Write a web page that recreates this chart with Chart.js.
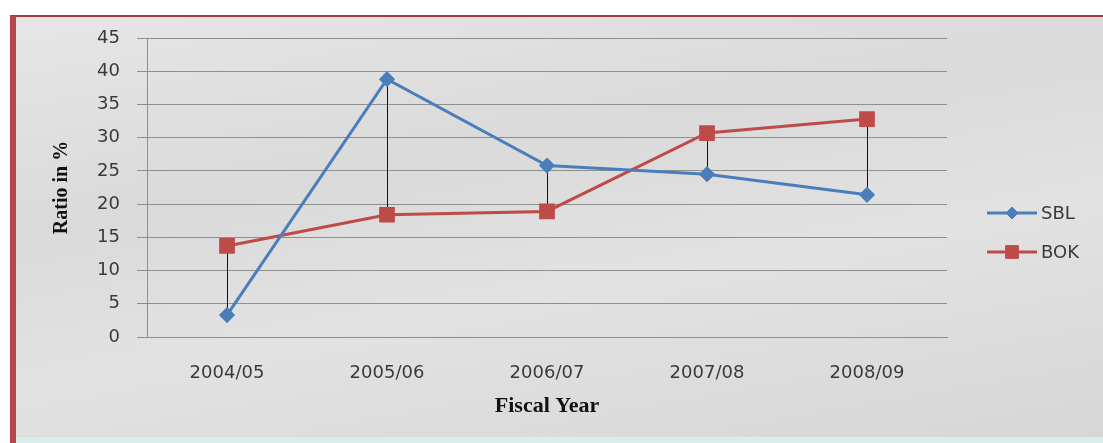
<!DOCTYPE html>
<html>
<head>
<meta charset="utf-8">
<script src="https://cdn.jsdelivr.net/npm/chart.js@4.4.1/dist/chart.umd.min.js"></script>
<style>
  html, body { margin: 0; padding: 0; background: #fff; }
  #wrap { position: relative; width: 1103px; height: 443px; overflow: hidden; }
  #panel {
    position: absolute; left: 10px; top: 15px; right: 0; bottom: 0;
    border-left: 6px solid #b5484a; border-top: 2px solid #a53b3d;
    background: linear-gradient(170deg, #e6e6e6 0%, #dadada 35%, #e2e2e2 60%, #d6d6d6 100%);
  }
  #panel::after {
    content: ''; position: absolute; left: 0; right: 0; bottom: 0; height: 6px; background: #dcecec;
  }
  canvas { position: absolute; left: 0; top: 0; }
</style>
</head>
<body>
<div id="wrap">
  <div id="panel"></div>
  <canvas id="chart" width="1103" height="443"></canvas>
</div>
<script>
const years = ['2004/05', '2005/06', '2006/07', '2007/08', '2008/09'];
const sbl = [3.3, 38.8, 25.8, 24.5, 21.4];
const bok = [13.7, 18.4, 18.9, 30.7, 32.8];
const yTicks = [0, 5, 10, 15, 20, 25, 30, 35, 40, 45];

const BLUE = '#4a7ebb';
const RED = '#be4b48';
const TEXT = '#3a3a3a';
const GRID = '#8f8f8f';

// black high-low lines between the two series at each year
const hiLoLines = {
  id: 'hiLoLines',
  beforeDatasetsDraw(chart) {
    const { ctx, scales: { x, y } } = chart;
    ctx.save();
    ctx.strokeStyle = '#111';
    ctx.lineWidth = 1;
    years.forEach((yr, i) => {
      const px = Math.round(x.getPixelForValue(i)) + 0.5;
      ctx.beginPath();
      ctx.moveTo(px, y.getPixelForValue(sbl[i]));
      ctx.lineTo(px, y.getPixelForValue(bok[i]));
      ctx.stroke();
    });
    ctx.restore();
  }
};

// Excel-style legend: line with marker in the middle
const sideLegend = {
  id: 'sideLegend',
  afterDraw(chart) {
    const { ctx } = chart;
    const items = chart.data.datasets.map((ds, i) => ({ ds, y: 213 + i * 39 }));
    ctx.save();
    items.forEach(({ ds, y }) => {
      ctx.strokeStyle = ds.borderColor;
      ctx.lineWidth = 3;
      ctx.beginPath();
      ctx.moveTo(987, y);
      ctx.lineTo(1037, y);
      ctx.stroke();
      ctx.fillStyle = ds.pointBackgroundColor;
      ctx.strokeStyle = ds.pointBorderColor;
      ctx.lineWidth = 1;
      Chart.helpers.drawPoint(ctx, { pointStyle: ds.pointStyle, radius: ds.pointRadius, borderWidth: 1 }, 1012, y);
      ctx.fillStyle = TEXT;
      ctx.font = '18px "DejaVu Sans"';
      ctx.textBaseline = 'middle';
      ctx.textAlign = 'left';
      ctx.fillText(ds.label, 1041, y + 1);
    });
    ctx.restore();
  }
};

new Chart(document.getElementById('chart'), {
  type: 'line',
  data: {
    labels: years,
    datasets: [
      {
        label: 'SBL',
        data: sbl,
        borderColor: BLUE,
        borderWidth: 3,
        pointStyle: 'rectRot',
        pointRadius: 6,
        pointBackgroundColor: BLUE,
        pointBorderColor: BLUE,
        tension: 0,
      },
      {
        label: 'BOK',
        data: bok,
        borderColor: RED,
        borderWidth: 3,
        pointStyle: 'rect',
        pointRadius: 9,
        pointBackgroundColor: RED,
        pointBorderColor: RED,
        tension: 0,
      }
    ]
  },
  options: {
    responsive: false,
    animation: false,
    layout: { padding: { left: 0, right: 156, top: 38, bottom: 0 } },
    plugins: {
      legend: { display: false },
      tooltip: { enabled: false }
    },
    scales: {
      x: {
        offset: true,
        afterFit: s => { s.height = 106; },
        grid: { display: false, drawTicks: false, offset: true },
        border: { display: true, color: GRID, width: 1 },
        ticks: { color: TEXT, padding: 26, font: { family: 'DejaVu Sans', size: 18 } },
        title: {
          display: true, text: 'Fiscal Year', color: '#111',
          font: { family: 'Liberation Serif', size: 22, weight: 'bold' },
          padding: { top: 0, bottom: 23 }
        }
      },
      y: {
        min: 0,
        max: 45,
        afterFit: s => { s.width = 147; },
        afterBuildTicks: s => { s.ticks = yTicks.map(v => ({ value: v })); },
        grid: { color: GRID, lineWidth: 1, drawTicks: true, tickLength: 10 },
        border: { display: true, color: GRID, width: 1 },
        ticks: { color: TEXT, padding: 17, font: { family: 'DejaVu Sans', size: 18 } },
        title: {
          display: true, text: 'Ratio in %', color: '#111',
          font: { family: 'Liberation Serif', size: 20, weight: 'bold' },
          padding: { top: 50, bottom: 0 }
        }
      }
    }
  },
  plugins: [hiLoLines, sideLegend]
});
</script>
</body>
</html>
